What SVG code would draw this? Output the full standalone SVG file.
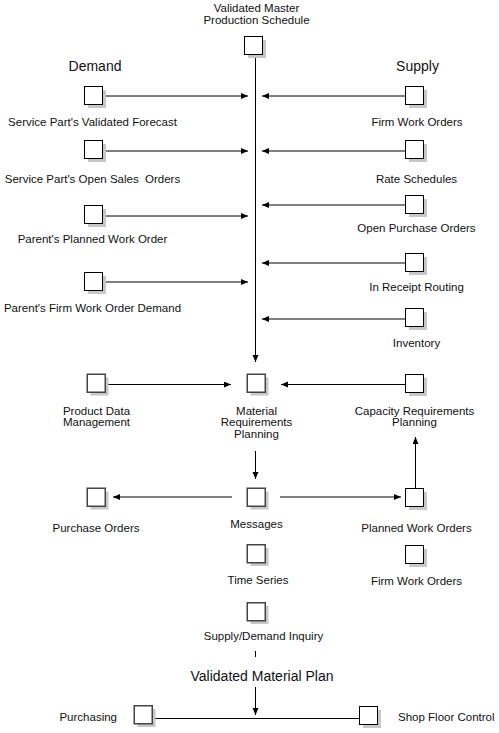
<svg xmlns="http://www.w3.org/2000/svg" width="499" height="733" viewBox="0 0 499 733">
<style>
text{font-family:"Liberation Sans",Arial,sans-serif;font-size:11.5px;fill:#111;text-anchor:middle;white-space:pre}
.h{font-size:14px}
.sh{fill:#c8c8c8}
.b{fill:#fff;stroke:#000;stroke-width:1}
.g{fill:#fff;stroke:#444;stroke-width:1.5}
.c{stroke:#000;stroke-width:1;fill:none}
.a{marker-end:url(#ah)}
</style>
<defs>
<marker id="ah" markerUnits="userSpaceOnUse" markerWidth="8" markerHeight="7" refX="7" refY="3" orient="auto"><path d="M0,0 L7,3 L0,6 z" fill="#000"/></marker>
<g id="bx"><rect class="sh" x="4" y="4" width="18" height="18"/><rect class="b" x="0.5" y="0.5" width="18" height="18"/></g>
<g id="gx"><rect class="sh" x="4" y="4" width="18" height="18"/><rect class="g" x="0.75" y="0.75" width="18" height="18"/></g>
</defs>
<g id="connectors">
<path class="c a" d="M255.5,55 V362"/>
<path class="c a" d="M104,96 H248"/>
<path class="c a" d="M104,151 H248"/>
<path class="c a" d="M104,216 H248"/>
<path class="c a" d="M104,282 H248"/>
<path class="c a" d="M405,96 H262"/>
<path class="c a" d="M405,151 H262"/>
<path class="c a" d="M405,205 H262"/>
<path class="c a" d="M405,263 H262"/>
<path class="c a" d="M405,319 H262"/>
<path class="c a" d="M108,384.5 H231"/>
<path class="c a" d="M405,384.5 H281"/>
<path class="c a" d="M255.5,451 V479"/>
<path class="c a" d="M415.5,488 V437"/>
<path class="c a" d="M232,497 H113"/>
<path class="c a" d="M280,497 H401"/>
<path class="c" d="M255.5,651 V657"/>
<path class="c a" d="M255.5,687 V715"/>
<path class="c" d="M153,718.5 H359"/>
</g>
<g id="mps"><use href="#bx" x="244" y="36"/><text x="256.5" y="11.5">Validated Master</text><text x="256.5" y="23.5">Production Schedule</text></g>
<g id="demand"><text class="h" x="95" y="71">Demand</text></g>
<g id="supply"><text class="h" x="417.5" y="71">Supply</text></g>
<g id="spvf"><use href="#bx" x="84" y="86"/><text x="92.5" y="126">Service Part's Validated Forecast</text></g>
<g id="spso"><use href="#bx" x="84" y="140"/><text x="92.5" y="183">Service Part's Open Sales  Orders</text></g>
<g id="ppwo"><use href="#bx" x="84" y="205"/><text x="92.5" y="243">Parent's Planned Work Order</text></g>
<g id="pfwo"><use href="#bx" x="84" y="272"/><text x="92.5" y="312">Parent's Firm Work Order Demand</text></g>
<g id="fwo1"><use href="#bx" x="405" y="86"/><text x="417" y="126">Firm Work Orders</text></g>
<g id="rs"><use href="#bx" x="405" y="140"/><text x="416.5" y="183">Rate Schedules</text></g>
<g id="opo"><use href="#bx" x="405" y="195"/><text x="416.5" y="232">Open Purchase Orders</text></g>
<g id="irr"><use href="#bx" x="405" y="253"/><text x="416.5" y="291">In Receipt Routing</text></g>
<g id="inv"><use href="#bx" x="405" y="308"/><text x="416.5" y="347">Inventory</text></g>
<g id="pdm"><use href="#gx" x="86.5" y="373.5"/><text x="96.5" y="415">Product Data</text><text x="96.5" y="426">Management</text></g>
<g id="mrp"><use href="#gx" x="246.5" y="373.5"/><text x="256.5" y="415">Material</text><text x="256.5" y="426">Requirements</text><text x="256.5" y="437.5">Planning</text></g>
<g id="crp"><use href="#bx" x="405" y="374"/><text x="414.5" y="415">Capacity Requirements</text><text x="414.5" y="426">Planning</text></g>
<g id="po"><use href="#gx" x="86.5" y="487.5"/><text x="96" y="531.5">Purchase Orders</text></g>
<g id="msg"><use href="#gx" x="246.5" y="487.5"/><text x="256.5" y="528">Messages</text></g>
<g id="pwo"><use href="#bx" x="405" y="488"/><text x="416.5" y="531.5">Planned Work Orders</text></g>
<g id="ts"><use href="#gx" x="246.5" y="544"/><text x="258" y="584">Time Series</text></g>
<g id="fwo2"><use href="#bx" x="405" y="545"/><text x="416.5" y="585">Firm Work Orders</text></g>
<g id="sdi"><use href="#gx" x="246.5" y="602"/><text x="263.5" y="640">Supply/Demand Inquiry</text></g>
<g id="vmp"><text class="h" x="262" y="681">Validated Material Plan</text></g>
<g id="purch"><use href="#gx" x="133.5" y="705"/><text x="117" y="721" style="text-anchor:end">Purchasing</text></g>
<g id="sfc"><use href="#bx" x="359" y="706"/><text x="398" y="721" style="text-anchor:start">Shop Floor Control</text></g>
</svg>
